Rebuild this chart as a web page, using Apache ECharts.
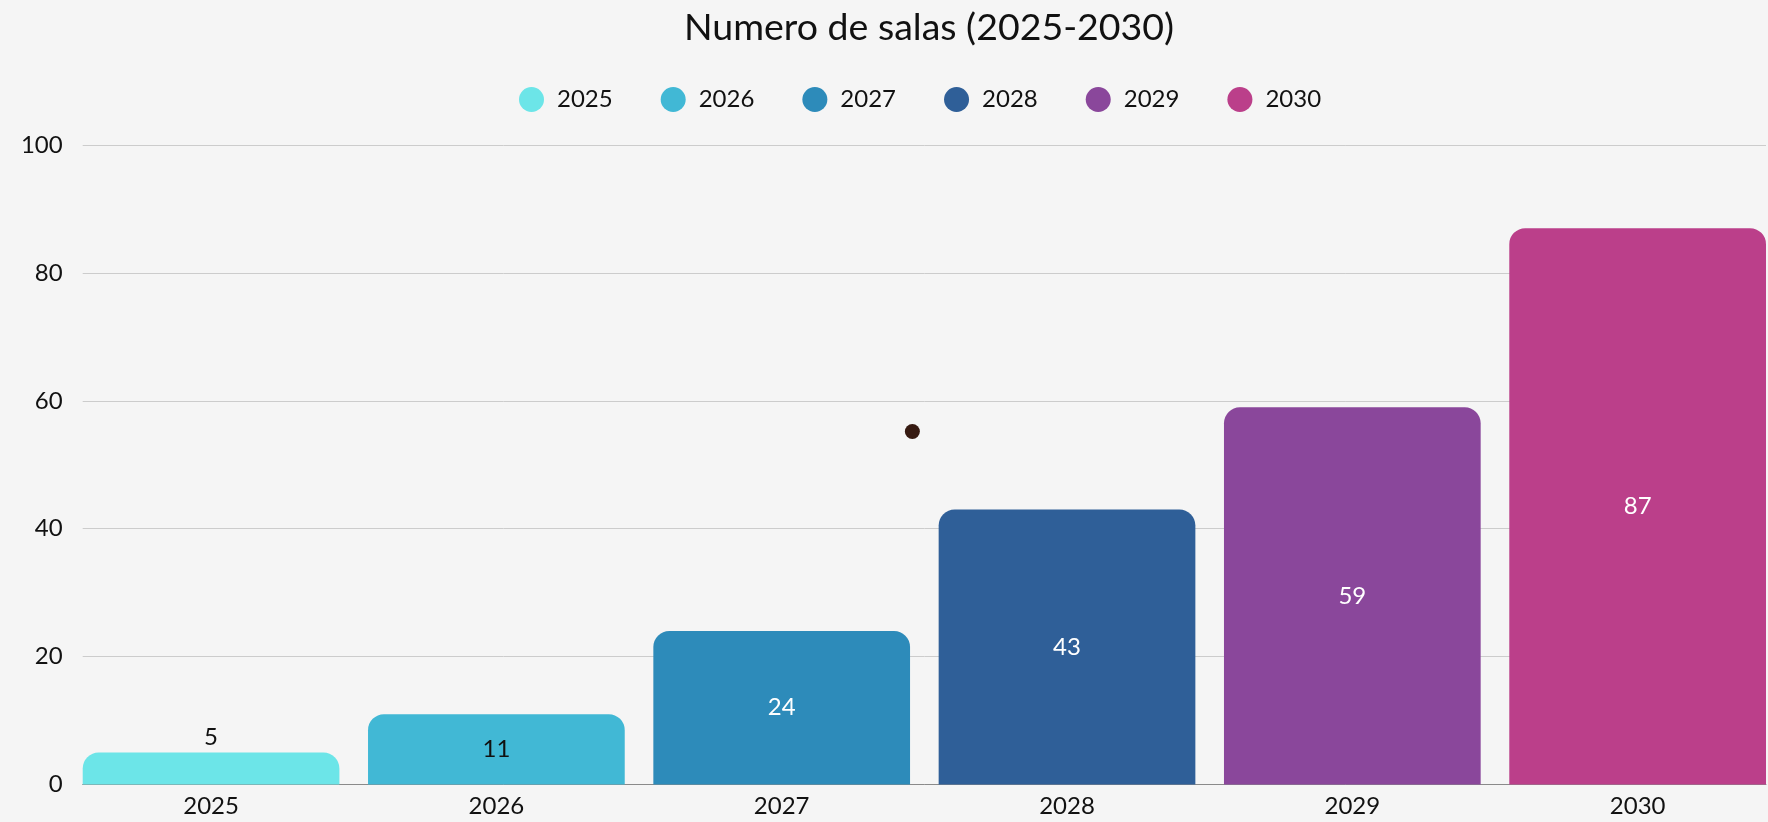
<!DOCTYPE html>
<html>
<head>
<meta charset="utf-8">
<script src="https://cdn.jsdelivr.net/npm/echarts@6/dist/echarts.min.js"></script>
<style>
html,body{margin:0;padding:0;background:#f5f5f5;}
#c{width:1768px;height:822px;}
</style>
</head>
<body>
<div id="c"></div>
<script>
const titleText = 'Numero de salas (2025-2030)';
const categories = ['2025', '2026', '2027', '2028', '2029', '2030'];
const values = [5, 11, 24, 43, 59, 87];
const colors = ['#6ce5e8', '#41b8d5', '#2d8bba', '#2f5f98', '#8a479b', '#bb3f8a'];
const labelColors = ['#111111', '#111111', '#ffffff', '#ffffff', '#ffffff', '#ffffff'];
const labelInside = [false, true, true, true, true, true];
const yTicks = [0, 20, 40, 60, 80, 100];
const dotPoint = [2.958, 55.2];

const FONT = 'Lato';
const chart = echarts.init(document.getElementById('c'));

const barSeries = categories.map((name, i) => ({
  type: 'bar',
  name: name,
  xAxisIndex: 1,
  yAxisIndex: 1,
  stack: 'all',
  barWidth: 256.7,
  itemStyle: { color: colors[i], borderRadius: [16, 16, 0, 0] },
  label: {
    show: true,
    position: labelInside[i] ? 'inside' : 'top',
    distance: 3,
    color: labelColors[i],
    fontFamily: FONT,
    fontSize: 24
  },
  data: categories.map((c, j) => (j === i ? values[i] : '-'))
}));

chart.setOption({
  backgroundColor: '#f5f5f5',
  animation: false,
  title: {
    text: titleText,
    left: 924,
    textAlign: 'center',
    top: 4,
    textStyle: { fontFamily: FONT, fontSize: 37.5, fontWeight: 'normal', color: '#111111' }
  },
  legend: {
    data: categories,
    top: 82,
    left: 514,
    icon: 'circle',
    itemWidth: 25,
    itemHeight: 25,
    itemGap: 48,
    textStyle: { fontFamily: FONT, fontSize: 24, color: '#111111', padding: [0, 0, 0, 8] }
  },
  grid: [
    { left: 82.7, right: 2, top: 145, bottom: 37.5, outerBoundsMode: 'none' },
    { left: 68.4, right: -12.3, top: 145, bottom: 37.5, outerBoundsMode: 'none' }
  ],
  xAxis: [
    { type: 'value', gridIndex: 0, min: 0, max: 1, show: true,
      axisLine: { show: true, onZero: false, lineStyle: { color: '#8a8a8a', width: 1 } },
      axisTick: { show: false }, axisLabel: { show: false }, splitLine: { show: false } },
    { type: 'category', gridIndex: 1, data: categories,
      axisLine: { show: false }, axisTick: { show: false },
      axisLabel: { fontFamily: FONT, fontSize: 24, color: '#111111', margin: 10 } },
    { type: 'value', gridIndex: 1, min: 0, max: 6, show: false }
  ],
  yAxis: [
    { type: 'value', gridIndex: 0, min: yTicks[0], max: yTicks[yTicks.length - 1], interval: 20,
      axisLine: { show: false }, axisTick: { show: false },
      axisLabel: { fontFamily: FONT, fontSize: 24, color: '#111111', margin: 20 },
      splitLine: { lineStyle: { color: '#cccccc', width: 1 } } },
    { type: 'value', gridIndex: 1, min: 0, max: 100, show: false }
  ],
  series: barSeries.concat([{
    type: 'scatter',
    name: 'dot',
    xAxisIndex: 2,
    yAxisIndex: 1,
    symbolSize: 15,
    itemStyle: { color: '#361a11', opacity: 1 },
    data: [dotPoint]
  }])
});
</script>
</body>
</html>
